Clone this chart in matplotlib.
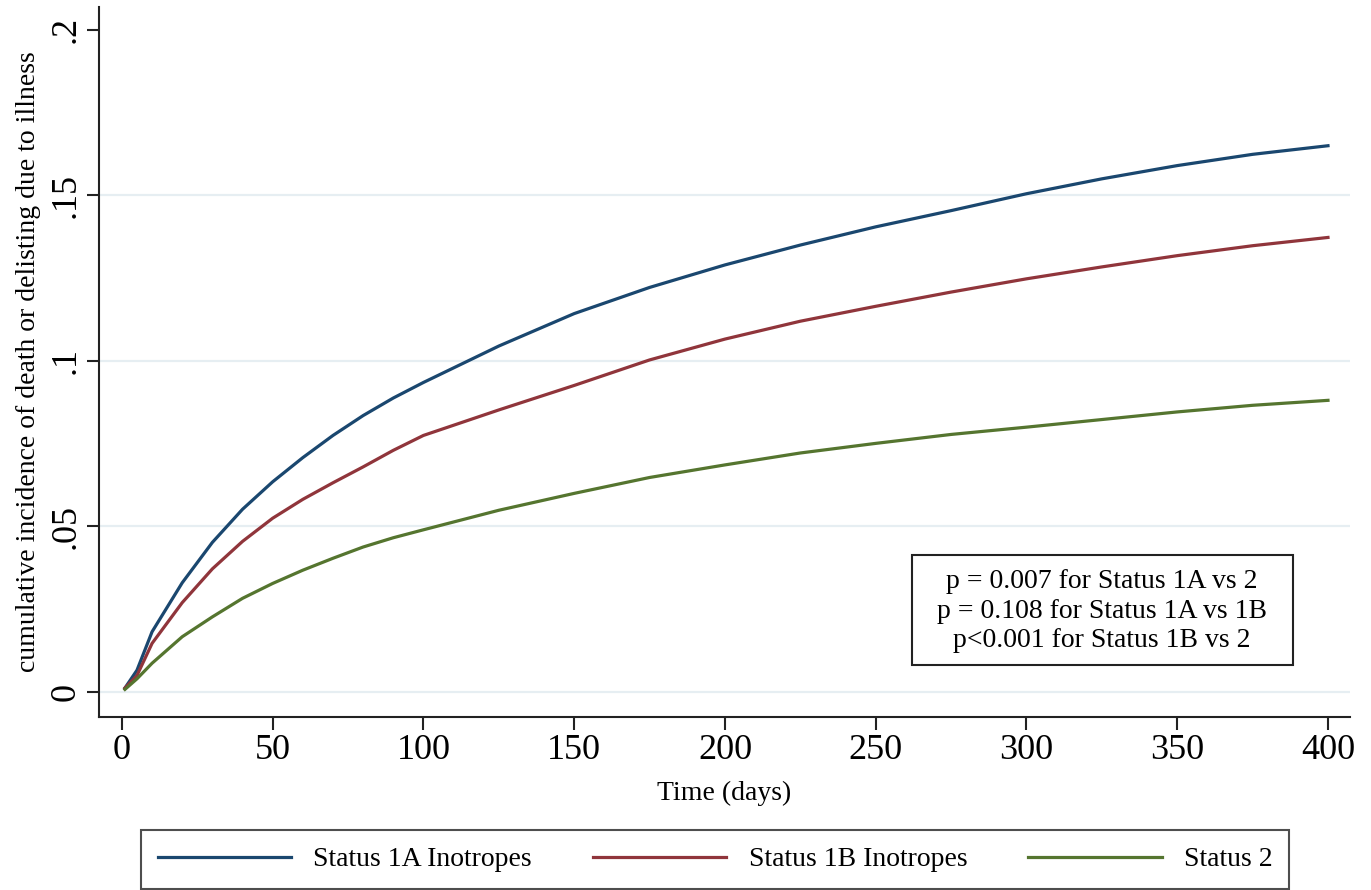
import matplotlib
matplotlib.use("Agg")
import matplotlib.pyplot as plt
from matplotlib.patches import Rectangle

plt.rcParams['font.family'] = ['Liberation Serif', 'DejaVu Serif']

# ---- data ----
days = [1, 5, 10, 20, 30, 40, 50, 60, 70, 80, 90, 100, 125, 150, 175, 200,
        225, 250, 275, 300, 325, 350, 375, 400]
status_1a = [0.0012, 0.0066, 0.0182, 0.0330, 0.0452, 0.0552, 0.0635, 0.0708,
             0.0775, 0.0835, 0.0888, 0.0935, 0.1045, 0.1143, 0.1222, 0.1290,
             0.1350, 0.1405, 0.1454, 0.1505, 0.1550, 0.1590, 0.1624, 0.1650]
status_1b = [0.0012, 0.0050, 0.0147, 0.0270, 0.0372, 0.0455, 0.0525, 0.0582,
             0.0632, 0.0680, 0.0730, 0.0775, 0.0852, 0.0926, 0.1003, 0.1066,
             0.1120, 0.1165, 0.1208, 0.1248, 0.1284, 0.1318, 0.1348, 0.1373]
status_2 = [0.0008, 0.0040, 0.0087, 0.0167, 0.0227, 0.0283, 0.0328, 0.0368,
            0.0404, 0.0438, 0.0466, 0.0490, 0.0549, 0.0600, 0.0648, 0.0686,
            0.0722, 0.0751, 0.0778, 0.0800, 0.0823, 0.0846, 0.0866, 0.0881]
series_labels = ["Status 1A Inotropes", "Status 1B Inotropes", "Status 2"]
series_colors = ["#1a476f", "#90353b", "#55752f"]
x_ticks = [0, 50, 100, 150, 200, 250, 300, 350, 400]
y_ticks = [0, 0.05, 0.10, 0.15, 0.20]
y_tick_labels = ["0", ".05", ".1", ".15", ".2"]
grid_levels = [0, 0.05, 0.10, 0.15]
pvalue_text = ("p = 0.007 for Status 1A vs 2\n"
               "p = 0.108 for Status 1A vs 1B\n"
               "p<0.001 for Status 1B vs 2")

W, H = 1371, 890
fig = plt.figure(figsize=(W / 100, H / 100), dpi=100)
ax = fig.add_axes([99 / W, 1 - 717 / H, (1350 - 99) / W, (717 - 7) / H])

for g in grid_levels:
    ax.axhline(g, color="#e6eef2", lw=1.6, zorder=1)

for vals, lab, col in zip([status_1a, status_1b, status_2], series_labels, series_colors):
    ax.plot(days, vals, color=col, lw=2.3, label=lab, zorder=3,
            solid_joinstyle='round')

ax.set_xlim(-7.6, 407.3)
ax.set_ylim(-0.00754, 0.2069)

ax.spines['top'].set_visible(False)
ax.spines['right'].set_visible(False)
for s in ['left', 'bottom']:
    ax.spines[s].set_linewidth(1.5)
    ax.spines[s].set_color("#222222")

ax.set_xticks(x_ticks)
ax.set_xticklabels([str(v) for v in x_ticks])
ax.set_yticks(y_ticks)
ax.set_yticklabels(y_tick_labels, rotation=90, va='center')
ax.tick_params(axis='both', direction='out', length=9, width=1.5,
               color="#222222", labelsize=26, pad=3)

ax.set_xlabel("Time (days)", fontsize=20, labelpad=10)
ax.set_ylabel("cumulative incidence of death or delisting due to illness",
              fontsize=20, labelpad=6)

# p-value annotation box
fig.patches.append(Rectangle((912 / W, 1 - 665 / H), (1293 - 912) / W, (665 - 555) / H,
                             transform=fig.transFigure, fc='white', ec='#222222',
                             lw=1.5, zorder=4))
fig.text(1102 / W, 1 - 611 / H, pvalue_text, ha='center', va='center',
         fontsize=20, linespacing=1.25, zorder=5)

leg = fig.legend(loc='lower left', bbox_to_anchor=(141 / W, 1 / H), ncol=3,
                 fontsize=20, frameon=True, fancybox=False, shadow=False,
                 handlelength=4.8, handletextpad=0.8, columnspacing=2.2,
                 borderpad=0.6, borderaxespad=0)
leg.get_frame().set_edgecolor('#222222')
leg.get_frame().set_linewidth(1.5)
for h in leg.get_lines():
    h.set_linewidth(2.3)

fig.savefig("out.png", dpi=100)
